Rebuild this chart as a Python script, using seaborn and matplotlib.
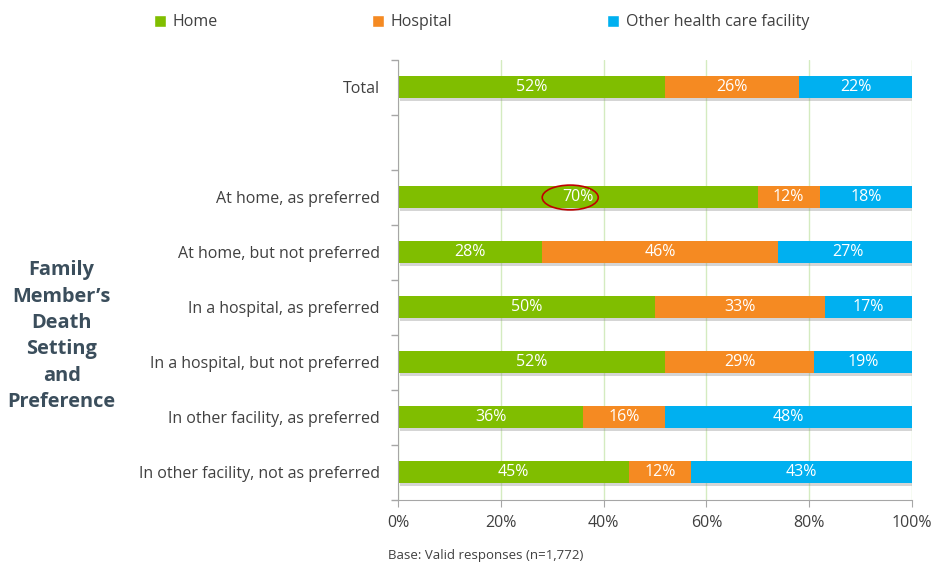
import pandas as pd
import seaborn as sns
import matplotlib.pyplot as plt
import matplotlib.patheffects as pe
from matplotlib.patches import Ellipse, Patch

# categories (blank row separates Total from the breakdown)
categories = ['Total', ' ',
              'At home, as preferred',
              'At home, but not preferred',
              'In a hospital, as preferred',
              'In a hospital, but not preferred',
              'In other facility, as preferred',
              'In other facility, not as preferred']
home = [52, 0, 70, 28, 50, 52, 36, 45]
hospital = [26, 0, 12, 46, 33, 29, 16, 12]
other = [22, 0, 18, 27, 17, 19, 48, 43]

series = ['Home', 'Hospital', 'Other health care facility']
colors = {'Home': '#80BE00', 'Hospital': '#F58A22', 'Other health care facility': '#00B0F0'}

df = pd.DataFrame({'Category': categories, 'Home': home, 'Hospital': hospital, 'Other': other})
df['c_home'] = df['Home']
df['c_hosp'] = df['Home'] + df['Hospital']
df['c_all'] = df['Home'] + df['Hospital'] + df['Other']

sns.set_style('white')
plt.rcParams['font.family'] = ['Open Sans', 'DejaVu Sans']

fig = plt.figure(figsize=(9.33, 5.67), dpi=100)
ax = fig.add_axes([0.4266, 0.1182, 0.551, 0.776])

shadow = [pe.SimplePatchShadow(offset=(1.5, -1.5), alpha=0.35, shadow_rgbFace='#888888'), pe.Normal()]

# stacked bars by overlaying cumulative layers
for col, name in [('c_all', 'Other health care facility'), ('c_hosp', 'Hospital'), ('c_home', 'Home')]:
    sns.barplot(data=df, y='Category', x=col, order=categories, color=colors[name],
                orient='h', width=0.4, ax=ax, errorbar=None, saturation=1, linewidth=0)

for i, p in enumerate(ax.patches):
    if i < len(categories):
        p.set_path_effects(shadow)

# value labels
for i, row in df.iterrows():
    start = 0
    for key in ['Home', 'Hospital', 'Other']:
        v = row[key]
        if v > 0:
            ax.text(start + v / 2, i, f'{v}%', ha='center', va='center',
                    color='white', fontsize=11.5)
        start += v

# highlight ellipse around 70%
ax.add_patch(Ellipse((33.5, 2), 10.9, 0.45, fill=False, edgecolor='#C00000', linewidth=1.2, zorder=5))

ax.set_xlim(0, 100)
ax.set_ylim(len(categories) - 0.5, -0.5)
ax.set_xticks([0, 20, 40, 60, 80, 100])
ax.set_xticklabels([f'{t}%' for t in [0, 20, 40, 60, 80, 100]])
ax.set_yticks(range(len(categories)))
ax.set_yticklabels(categories)
ax.set_yticks([k + 0.5 for k in range(-1, len(categories))], minor=True)
ax.set_xlabel('')
ax.set_ylabel('')

ax.xaxis.grid(True, color='#D4EBC0', linewidth=1)
ax.set_axisbelow(True)
for s in ['top', 'right']:
    ax.spines[s].set_visible(False)
for s in ['left', 'bottom']:
    ax.spines[s].set_color('#A6A6A6')

ax.tick_params(axis='y', which='major', length=0, labelsize=11.5, labelcolor='#404040', pad=13)
ax.tick_params(axis='y', which='minor', left=True, length=5, color='#A6A6A6', width=1)
ax.tick_params(axis='x', bottom=True, length=5, color='#A6A6A6', labelsize=11.5, labelcolor='#404040', pad=6)

# legend on top
handles = [Patch(facecolor=colors[s], label=s) for s in series]
fig.legend(handles=handles, loc='upper center', bbox_to_anchor=(0.516, 1.0), ncol=3, frameon=False,
           fontsize=11.5, handlelength=0.75, handleheight=0.75, handletextpad=0.4, columnspacing=9.7,
           labelcolor='#404040')

fig.text(0.066, 0.407, 'Family\nMember\u2019s\nDeath\nSetting\nand\nPreference', ha='center', va='center',
         fontsize=14.4, fontweight='bold', color='#3B4E5C', linespacing=1.42)

fig.text(0.4155, 0.008, 'Base: Valid responses (n=1,772)', ha='left', va='bottom', fontsize=9.5, color='#404040')

fig.savefig('out.png', dpi=100)
